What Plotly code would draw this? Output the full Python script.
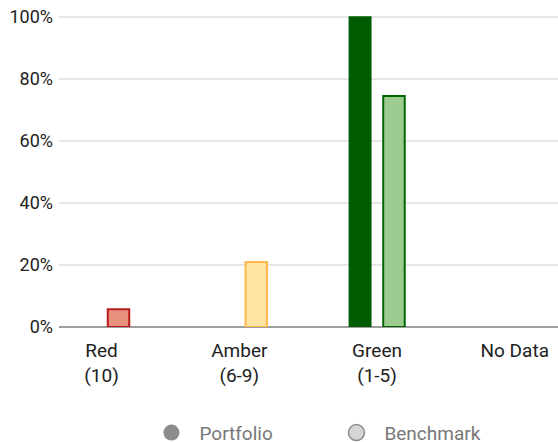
import plotly.graph_objects as go

categories = ["Red<br>(10)", "Amber<br>(6-9)", "Green<br>(1-5)", "No Data"]
portfolio = [None, None, 100, None]
benchmark = [5.7, 21, 74.5, None]
y_ticks = [0, 20, 40, 60, 80, 100]
y_tick_labels = ["0%", "20%", "40%", "60%", "80%", "100%"]

portfolio_fill = ["#e8917e", "#ffe4a1", "#005c00", "#cccccc"]
portfolio_line = ["#b71c1c", "#ffb84d", "#005c00", "#999999"]
benchmark_fill = ["#e8917e", "#ffe4a1", "#9dcc91", "#cccccc"]
benchmark_line = ["#b71c1c", "#ffb84d", "#006400", "#999999"]

W, H = 558, 442
fig = go.Figure()
fig.add_trace(go.Bar(x=categories, y=portfolio, width=0.156, offset=-0.201,
                     marker=dict(color=portfolio_fill, line=dict(color=portfolio_line, width=1.5)),
                     showlegend=False, name="Portfolio"))
fig.add_trace(go.Bar(x=categories, y=benchmark, width=0.156, offset=0.045,
                     marker=dict(color=benchmark_fill, line=dict(color=benchmark_line, width=2)),
                     showlegend=False, name="Benchmark"))
fig.add_trace(go.Scatter(x=[None], y=[None], mode="markers", name="Portfolio",
                         marker=dict(symbol="circle", size=16, color="#8c8c8c")))
fig.add_trace(go.Scatter(x=[None], y=[None], mode="markers", name="Benchmark",
                         marker=dict(symbol="circle", size=16, color="#d6d6d6",
                                     line=dict(color="#8c8c8c", width=1.5))))

fig.update_layout(
    width=W, height=H,
    margin=dict(l=59, r=0, t=14.4, b=114.5),
    paper_bgcolor="white", plot_bgcolor="white",
    barmode="overlay",
    font=dict(family="Roboto", size=18, color="#212121"),
    showlegend=True,
    legend=dict(orientation="h", xref="container", yref="container",
                x=0.5886, xanchor="center", y=0.021, yanchor="middle",
                font=dict(size=19, color="#777777"),
                entrywidth=124, entrywidthmode="pixels",
                itemwidth=46, itemsizing="trace"),
)
fig.update_xaxes(type="category", range=[-0.309, 3.314], showgrid=False,
                 showline=False, zeroline=False, ticks="", ticklabelstandoff=10,
                 tickfont=dict(size=19, color="#212121"), fixedrange=True)
fig.update_yaxes(range=[0, 101], tickvals=y_ticks, ticktext=y_tick_labels,
                 showgrid=True, gridcolor="#e6e6e6", gridwidth=1.5,
                 zeroline=True, zerolinecolor="#9e9e9e", zerolinewidth=1.5,
                 showline=False, ticks="", ticklabelstandoff=5,
                 tickfont=dict(size=18, color="#212121"), fixedrange=True)

fig.write_html("out.html", config={"displayModeBar": False},
               post_script="document.body.style.margin='0';")
